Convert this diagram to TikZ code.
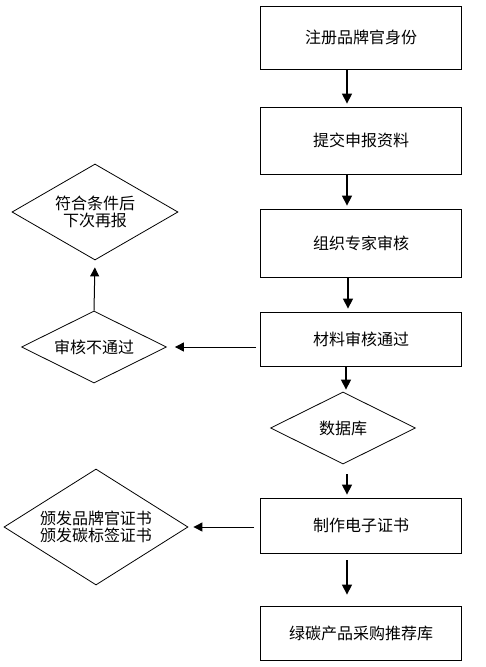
\documentclass[tikz,border=0pt]{standalone}
\usepackage{fontspec}
\newfontfamily\cjk{Noto Sans CJK SC}
\usepackage{tikz}
\usetikzlibrary{arrows.meta}
\usetikzlibrary{shapes.geometric}

\begin{document}
\begin{tikzpicture}[x=1pt, y=-1pt,
    every node/.style={font=\cjk\fontsize{16}{16.5}\selectfont, align=center},
    box/.style={rectangle, draw, line width=0.8pt, minimum width=201pt},
    dia/.style={diamond, draw, line width=0.8pt, inner sep=0pt},
    arr/.style={-{Triangle[length=10pt, width=10pt]}, line width=1.3pt},
    harr/.style={-{Triangle[length=9pt, width=9pt]}, line width=1pt}]
    \useasboundingbox (0,0) rectangle (485,667);

    \node (reg) [box, minimum height=63pt] at (361,37.5) {注册品牌官身份};
    \node (sub) [box, minimum height=67pt] at (361,140.5) {提交申报资料};
    \node (org) [box, minimum height=68pt] at (361,243) {组织专家审核};
    \node (pass) [box, minimum height=54pt] at (361,339) {材料审核通过};
    \node (db) [dia, aspect=2, minimum width=145pt, minimum height=72pt] at (343,428) {数据库};
    \node (cert) [box, minimum height=55pt] at (361,525.5) {制作电子证书};
    \node (lib) [box, minimum height=54pt] at (361,633) {绿碳产品采购推荐库};

    \node (fail) [dia, aspect=2, minimum width=145pt, minimum height=72pt] at (94,347) {审核不通过};
    \node (next) [dia, aspect=1.73, minimum width=166pt, minimum height=96pt] at (95,212) {符合条件后\\下次再报};
    \node (issue) [dia, aspect=1.59, minimum width=184pt, minimum height=116pt] at (96,527) {颁发品牌官证书\\颁发碳标签证书};

    \draw [arr, shorten >=3pt] ([xshift=-14pt]reg.south) -- ([xshift=-14pt]sub.north);
    \draw [arr, shorten >=3pt] ([xshift=-14pt]sub.south) -- ([xshift=-14pt]org.north);
    \draw [arr, shorten >=3pt] ([xshift=-13pt]org.south) -- ([xshift=-13pt]pass.north);
    \draw [arr, shorten >=2pt] ([xshift=-15pt]pass.south) -- ([xshift=-15pt]pass.south |- db.north);
    \draw [arr, shorten <=10pt, shorten >=3pt] ([xshift=4pt]db.south) -- ([xshift=-14pt]cert.north);
    \draw [arr, shorten <=7pt, shorten >=11pt] ([xshift=-14pt]cert.south) -- ([xshift=-14pt]lib.north);

    \draw [harr, shorten <=4pt, shorten >=8pt] (pass.west |- fail.east) -- (fail.east);
    \draw [harr, shorten >=7pt] (fail.north) -- (next.south);
    \draw [harr, shorten <=6pt, shorten >=5pt] (cert.west |- issue.east) -- (issue.east);
\end{tikzpicture}
\end{document}
